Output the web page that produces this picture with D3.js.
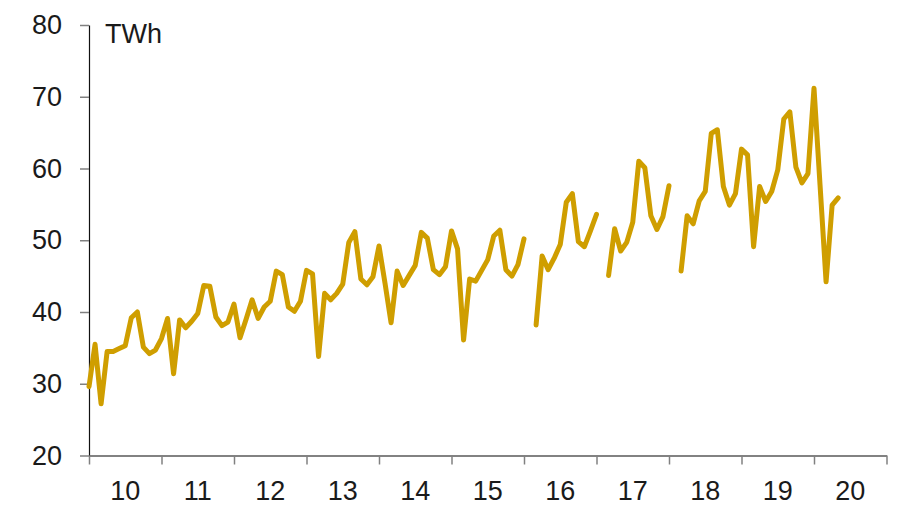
<!DOCTYPE html>
<html>
<head>
<meta charset="utf-8">
<script src="https://cdn.jsdelivr.net/npm/d3@7"></script>
<style>
  html, body { margin: 0; padding: 0; background: #fff; }
  svg { display: block; }
  text { font-family: "Liberation Sans", Arial, sans-serif; fill: #1a1a1a; }
</style>
</head>
<body>
<svg id="chart" width="901" height="506"></svg>
<script>
// Year tick labels (each spans 12 monthly points)
const yearLabels = ["10","11","12","13","14","15","16","17","18","19","20"];
// Y axis tick values
const yTicks = [20, 30, 40, 50, 60, 70, 80];
const unitLabel = "TWh";
// Monthly values (TWh); null = missing month (line break)
const values = [
  29.6, 35.5, 27.2, 34.5, 34.5, 34.9, 35.3, 39.2, 40.0, 35.1, 34.2, 34.7,
  36.3, 39.1, 31.4, 38.9, 37.8, 38.7, 39.8, 43.7, 43.6, 39.3, 38.1, 38.6,
  41.1, 36.4, 39.0, 41.7, 39.1, 40.7, 41.5, 45.7, 45.2, 40.7, 40.1, 41.5,
  45.8, 45.3, 33.8, 42.6, 41.7, 42.6, 43.9, 49.7, 51.2, 44.6, 43.8, 44.9,
  49.2, 44.0, 38.5, 45.7, 43.7, 45.1, 46.5, 51.1, 50.3, 45.9, 45.2, 46.3,
  51.3, 48.8, 36.1, 44.6, 44.3, 45.8, 47.3, 50.6, 51.4, 45.9, 45.0, 46.6,
  50.2, null, 38.2, 47.8, 45.9, 47.5, 49.4, 55.3, 56.5, 49.8, 49.1, 51.3,
  53.6, null, 45.1, 51.6, 48.5, 49.7, 52.5, 61.0, 60.1, 53.4, 51.5, 53.3,
  57.6, null, 45.7, 53.4, 52.3, 55.5, 56.8, 64.9, 65.4, 57.5, 54.9, 56.5,
  62.7, 61.9, 49.1, 57.5, 55.4, 56.8, 59.8, 66.9, 67.9, 60.2, 58.0, 59.3,
  71.2, 57.7, 44.2, 54.9, 55.9
];

const svg = d3.select("#chart");
const monthsPerYear = 12;
const totalMonths = yearLabels.length * monthsPerYear;

const x = d3.scaleLinear().domain([0, totalMonths]).range([89, 886.5]);
const y = d3.scaleLinear().domain([20, 80]).range([455.5, 25]);

// Y axis
const yAxis = svg.append("g")
  .attr("transform", "translate(89,0)")
  .call(d3.axisLeft(y).tickValues(yTicks).tickSize(9).tickSizeOuter(0).tickPadding(18));
yAxis.select(".domain").attr("stroke", "#111").attr("stroke-width", 1.2);
yAxis.selectAll(".tick line").attr("stroke", "#808080").attr("stroke-width", 1.5);
yAxis.selectAll(".tick text")
  .attr("font-size", 27).attr("fill", "#1a1a1a")
  .style("font-family", "'Liberation Sans', Arial, sans-serif");

// X axis (ticks at year boundaries)
const xTickVals = d3.range(0, totalMonths + 1, monthsPerYear);
const xAxis = svg.append("g")
  .attr("transform", "translate(0," + y(20) + ")")
  .call(d3.axisBottom(x).tickValues(xTickVals).tickSize(9).tickSizeOuter(0).tickFormat(""));
xAxis.select(".domain").attr("stroke", "#595959").attr("stroke-width", 1.5);
xAxis.selectAll(".tick line").attr("stroke", "#808080").attr("stroke-width", 1.5);

// Year labels centred in each year interval
svg.append("g").selectAll("text")
  .data(yearLabels)
  .join("text")
  .attr("x", (d, i) => x(i * monthsPerYear + monthsPerYear / 2))
  .attr("y", 500)
  .attr("text-anchor", "middle")
  .attr("font-size", 27)
  .text(d => d);

// Unit label
svg.append("text")
  .attr("x", 105)
  .attr("y", 43)
  .attr("font-size", 27)
  .text(unitLabel);

// Line
const line = d3.line()
  .defined(d => d != null)
  .x((d, i) => x(i))
  .y(d => y(d));

svg.append("path")
  .datum(values)
  .attr("fill", "none")
  .attr("stroke", "#CF9E00")
  .attr("stroke-width", 5)
  .attr("stroke-linejoin", "round")
  .attr("stroke-linecap", "round")
  .attr("d", line);
</script>
</body>
</html>
